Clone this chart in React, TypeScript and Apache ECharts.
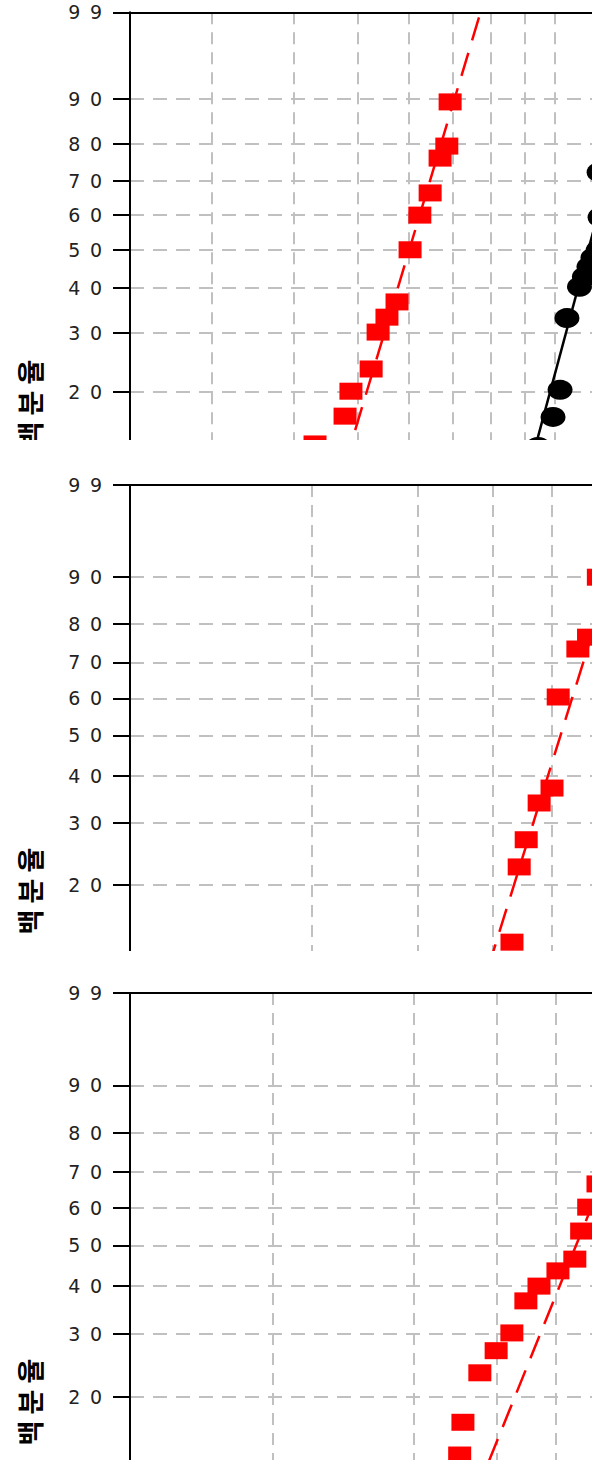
import React, { useEffect, useRef } from "react";
import * as echarts from "echarts";

// Weibull probability plot tick labels (percent)
const yTickPercents = [20, 30, 40, 50, 60, 70, 80, 90, 99];

// vertical grid values (log x scale)
const p1GridValues = [3, 4, 5, 6, 7, 8, 9, 10, 20];
const p2GridValues = [2, 3, 4, 5, 6, 7, 8, 9, 10];
const p3GridValues = [1, 2, 3, 4, 5, 6, 7, 8, 9, 10];

// Panel 1
const p1RedX = [6.93, 6.85, 6.69, 6.46, 6.23, 6.02, 5.75, 5.55, 5.38, 5.25, 4.89, 4.79, 4.31];
const p1RedP = [89.5, 79.5, 76.3, 66.4, 59.9, 50.0, 36.7, 33.3, 30.2, 23.5, 20.1, 16.8, 13.7];
const p1BlackX = [11.7, 11.74, 11.66, 11.45, 11.29, 11.11, 10.92, 10.45, 10.2, 9.95, 9.44];
const p1BlackP = [72.4, 59.3, 49.9, 47.8, 45.4, 42.8, 40.3, 33.1, 20.3, 16.7, 13.4];
const p1RedFitX = [7.67, 4.68];
const p1RedFitP = [98.8, 10];
const p1BlackFitX = [14.1, 9.01];
const p1BlackFitP = [99, 10];

// Panel 2
const p2RedX = [5.98, 5.76, 5.53, 5.13, 5.01, 4.77, 4.54, 4.42, 4.3];
const p2RedP = [89.9, 76.7, 73.6, 60.4, 37.2, 34.0, 27.0, 22.6, 13.5];
const p2RedFitX = [6.97, 3.85];
const p2RedFitP = [99, 10];

// Panel 3
const p3RedX = [4.93, 4.71, 4.55, 4.4, 4.05, 3.69, 3.46, 3.23, 2.99, 2.76, 2.54, 2.5];
const p3RedP = [66.7, 60.3, 53.8, 46.5, 43.6, 40.0, 36.7, 30.2, 27.0, 23.4, 16.8, 13.4];
const p3RedFitX = [7.3, 2.69];
const p3RedFitP = [99, 10];

const yAxisName = "백 분 율";

const wb = (p: number) => Math.log(-Math.log(1 - p / 100));
const lg = (x: number) => Math.log10(x);
const pts = (xs: number[], ps: number[]) => xs.map((x, i) => [lg(x), wb(ps[i])]);

const GRID_W = 600;
const CHART_W = 760;

type Panel = {
  top: number;
  bottom: number;
  pxPerDecade: number;
  xMin: number;
  pxPerW: number;
  gridVals: number[];
  series: any[];
  nameY: number;
};

export default function App() {
  const ref = useRef<HTMLDivElement>(null);

  useEffect(() => {
    document.body.style.margin = "0";
    if (!ref.current) return;
    const chart = echarts.init(ref.current, undefined, { renderer: "svg" });

    const red = "#ff0000";
    const redScatter = (xs: number[], ps: number[]) => ({
      type: "scatter",
      symbol: "rect",
      symbolSize: [23, 17],
      itemStyle: { color: red, opacity: 1 },
      data: pts(xs, ps),
      clip: false,
      z: 4,
    });
    const blackScatter = (xs: number[], ps: number[]) => ({
      type: "scatter",
      symbol: "circle",
      symbolSize: [25, 20],
      itemStyle: { color: "#000", opacity: 1 },
      data: pts(xs, ps),
      clip: false,
      z: 4,
    });
    const fitLine = (xs: number[], ps: number[], color: string, dashed: boolean) => ({
      type: "line",
      data: pts(xs, ps),
      showSymbol: false,
      symbol: "none",
      lineStyle: { color, width: 2.5, type: dashed ? [24, 13] : "solid" },
      z: 3,
    });

    const panels: Panel[] = [
      {
        top: 12.3, bottom: 470, pxPerDecade: 655, xMin: 0.352, pxPerW: 125.4, gridVals: p1GridValues, nameY: 403,
        series: [
          fitLine(p1RedFitX, p1RedFitP, red, true),
          fitLine(p1BlackFitX, p1BlackFitP, "#000", false),
          redScatter(p1RedX, p1RedP),
          blackScatter(p1BlackX, p1BlackP),
        ],
      },
      {
        top: 485, bottom: 982, pxPerDecade: 603, xMin: 0, pxPerW: 132.2, gridVals: p2GridValues, nameY: 891,
        series: [fitLine(p2RedFitX, p2RedFitP, red, true), redScatter(p2RedX, p2RedP)],
      },
      {
        top: 993, bottom: 1495, pxPerDecade: 469, xMin: -0.305, pxPerW: 133.3, gridVals: p3GridValues, nameY: 1402,
        series: [fitLine(p3RedFitX, p3RedFitP, red, true), redScatter(p3RedX, p3RedP)],
      },
    ];

    const yTicks = yTickPercents.map(wb);
    const yMax = wb(99);

    const grid: any[] = [];
    const xAxis: any[] = [];
    const yAxis: any[] = [];
    const series: any[] = [];

    panels.forEach((pn, i) => {
      const h = pn.bottom - pn.top;
      grid.push({ left: 130, top: pn.top, width: GRID_W, height: h, containLabel: false, outerBoundsMode: "none" });
      xAxis.push({
        type: "value",
        gridIndex: i,
        position: "top",
        min: pn.xMin,
        max: pn.xMin + GRID_W / pn.pxPerDecade,
        axisLine: { show: true, onZero: false, lineStyle: { color: "#000", width: 2 } },
        axisTick: { show: false, customValues: pn.gridVals.map(lg) },
        axisLabel: { show: false },
        splitLine: { show: true, lineStyle: { color: "#c0c0c0", width: 2, type: [12, 8] } },
      });
      yAxis.push({
        type: "value",
        gridIndex: i,
        min: yMax - h / pn.pxPerW,
        max: yMax,
        axisLine: { show: true, onZero: false, lineStyle: { color: "#000", width: 2 } },
        axisTick: { show: true, length: 17, lineStyle: { color: "#000", width: 2 }, customValues: yTicks },
        axisLabel: {
          customValues: yTicks,
          margin: 28,
          fontSize: 19,
          color: "#222",
          fontFamily: "DejaVu Sans",
          padding: [6, 0, 0, 0],
          formatter: (v: number) => {
            const p = Math.round((1 - Math.exp(-Math.exp(v))) * 100);
            return String(p).split("").join("\u2002");
          },
        },
        splitLine: { show: true, lineStyle: { color: "#c0c0c0", width: 2, type: [14, 9] } },
      });
      pn.series.forEach((s) => series.push({ ...s, xAxisIndex: i, yAxisIndex: i }));
    });

    const graphic: any[] = [
      { type: "rect", shape: { x: 0, y: 440, width: CHART_W, height: 37 }, style: { fill: "#fff" }, z: 100 },
      { type: "rect", shape: { x: 0, y: 951, width: CHART_W, height: 34 }, style: { fill: "#fff" }, z: 100 },
    ];
    panels.forEach((pn) => {
      graphic.push({
        type: "text",
        x: 29,
        y: pn.nameY,
        rotation: Math.PI / 2,
        z: 99,
        style: {
          text: yAxisName,
          fontSize: 27,
          fontWeight: "bold",
          fontFamily: '"Noto Sans CJK KR"',
          fill: "#000",
          align: "center",
          verticalAlign: "middle",
        },
      });
    });

    chart.setOption({
      animation: false,
      backgroundColor: "#fff",
      grid,
      xAxis,
      yAxis,
      series,
      graphic,
    });

    return () => chart.dispose();
  }, []);

  return (
    <div style={{ width: 592, height: 1460, overflow: "hidden", position: "relative" }}>
      <div ref={ref} style={{ width: CHART_W, height: 1460 }} />
    </div>
  );
}
